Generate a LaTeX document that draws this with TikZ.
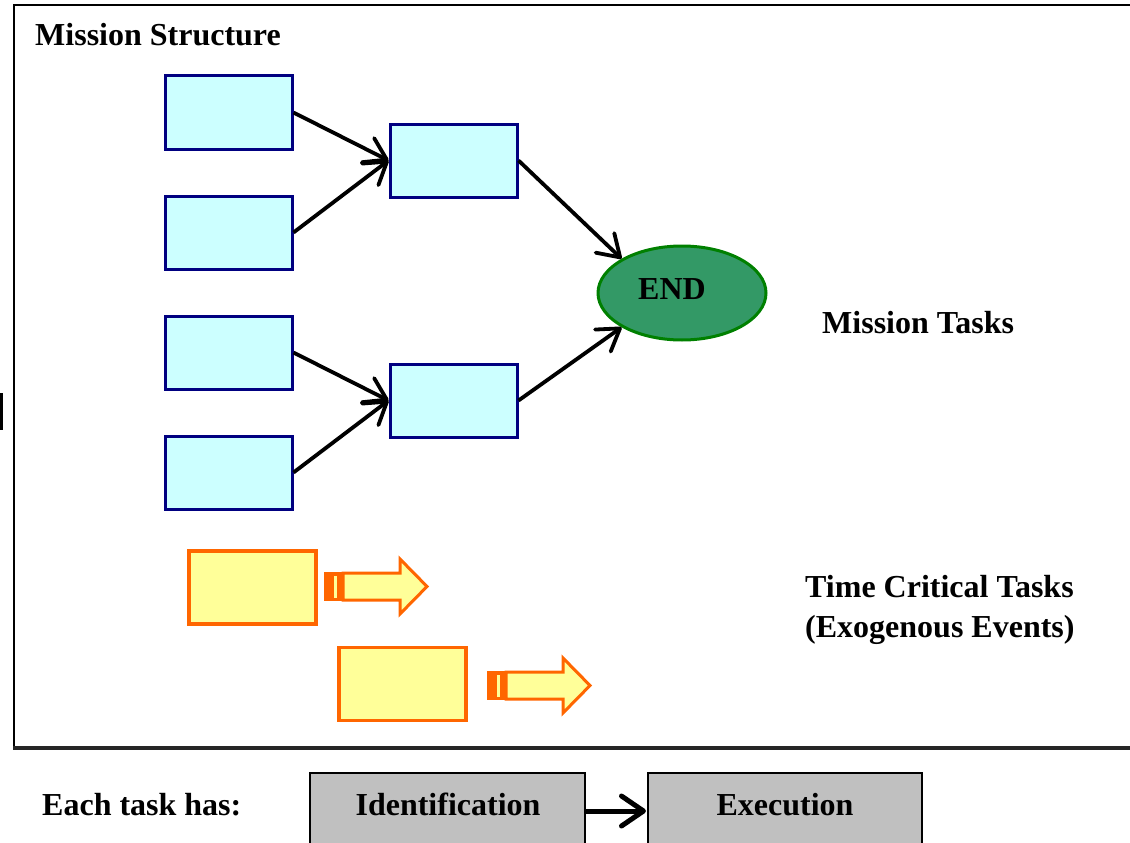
\documentclass[tikz,border=0pt]{standalone}
\usepackage{fontspec}
\setmainfont{Liberation Serif}
\usetikzlibrary{arrows.meta,shapes.geometric}
\definecolor{taskfill}{HTML}{CCFFFF}
\definecolor{taskdraw}{HTML}{000080}
\definecolor{endfill}{HTML}{339966}
\definecolor{enddraw}{HTML}{008000}
\definecolor{tcfill}{HTML}{FFFF99}
\definecolor{tcdraw}{HTML}{FF6600}
\definecolor{grayfill}{HTML}{C0C0C0}
\tikzset{
  lbl/.style={font=\fontsize{32}{36}\selectfont\bfseries, inner sep=0pt, anchor=base west},
  taskbox/.style={draw=taskdraw, fill=taskfill, line width=3pt, minimum width=127pt, minimum height=73pt, inner sep=0pt},
  tcbox/.style={draw=tcdraw, fill=tcfill, line width=3.5pt, minimum width=127pt, minimum height=73pt, inner sep=0pt},
  graybox/.style={draw=black, fill=grayfill, line width=2pt},
  conn/.style={line width=3.8pt, -{Straight Barb[length=21pt,width=27pt,round]}},
  blockarrow/.style={draw=tcdraw, fill=tcfill, line width=3pt, line join=miter}
}
\begin{document}
\begin{tikzpicture}[x=1pt,y=-1pt]
\useasboundingbox (0,0) rectangle (1130,843);
% frame
\draw[line width=2.5pt] (1132,5) -- (14,5) -- (14,748);
\draw[line width=3.5pt, black!85] (13,748) -- (1132,748);
\fill[black] (0,393) rectangle (3,430);
% title
\node[lbl] (title) at (35,46) {Mission Structure};
% task boxes
\node[taskbox] (a1) at (228.5,112.5) {};
\node[taskbox] (a2) at (228.5,232.5) {};
\node[taskbox] (a3) at (228.5,352.5) {};
\node[taskbox] (a4) at (228.5,472.5) {};
\node[taskbox] (b1) at (453.5,160.5) {};
\node[taskbox] (b2) at (453.5,400.5) {};
% end
\node[ellipse, draw=enddraw, fill=endfill, line width=3pt, minimum width=168pt, minimum height=94pt, inner sep=0pt] (end) at (682,293) {};
\node[lbl] (endtxt) at (638,299) {END};
% connectors
\draw[conn] (a1.east) -- (b1.west);
\draw[conn] (a2.east) -- (b1.west);
\draw[conn] (a3.east) -- (b2.west);
\draw[conn] (a4.east) -- (b2.west);
\draw[conn] (b1.east) -- (end.north west);
\draw[conn] (b2.east) -- (end.south west);
% labels
\node[lbl] (mt) at (822,333) {Mission Tasks};
\node[lbl] (tct) at (805,597) {Time Critical Tasks};
\node[lbl] (exo) at (805,637) {(Exogenous Events)};
% time critical boxes
\node[tcbox] (c1) at (252.5,587.5) {};
\node[tcbox] (c2) at (402.5,684) {};
% striped block arrows
\foreach \dx/\dy in {0/0,163/99}{
  \begin{scope}[shift={(\dx,\dy)}]
    \fill[tcdraw] (324,572) rectangle (343,601);
    \fill[tcfill] (333.5,575.5) rectangle (336.5,597.5);
    \draw[blockarrow] (343,573) -- (400,573) -- (400,559) -- (427,586.5) -- (400,614) -- (400,600) -- (343,600) -- cycle;
  \end{scope}
}
% bottom
\node[lbl] (each) at (42,815) {Each task has:};
\begin{scope}
\clip (0,0) rectangle (1130,843);
\path[graybox] (310,850) -- (310,773) -- (585,773) -- (585,850);
\path[graybox] (648,850) -- (648,773) -- (922,773) -- (922,850);
\end{scope}
\coordinate (idr) at (586,811);
\coordinate (exl) at (646,811);
\node[font=\fontsize{32}{36}\selectfont\bfseries, inner sep=0pt, anchor=base] (ident) at (448,815) {Identification};
\node[font=\fontsize{32}{36}\selectfont\bfseries, inner sep=0pt, anchor=base] (exec) at (785,815) {Execution};
\draw[line width=5pt, -{Straight Barb[length=22pt,width=30pt,round]}] (idr) -- (exl);
\end{tikzpicture}
\end{document}
